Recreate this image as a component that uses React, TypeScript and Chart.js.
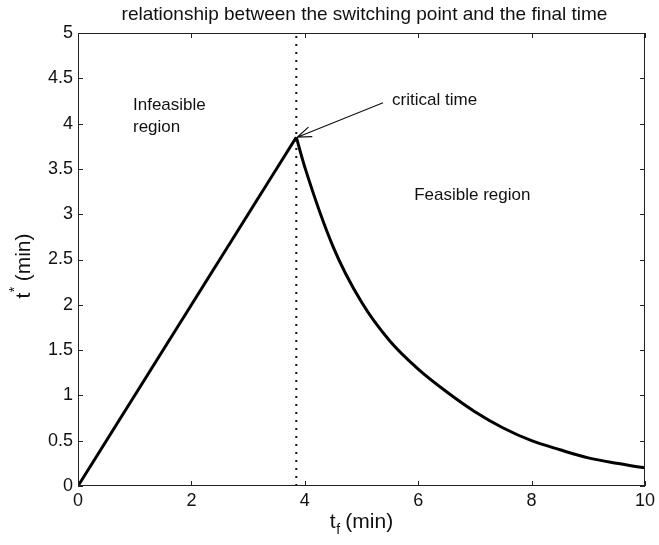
import React, { useEffect, useRef } from "react";
import { Chart, registerables } from "chart.js";
Chart.register(...registerables);

const riseX = [0, 3.85];
const riseY = [0, 3.85];
const decayX = [3.85, 4, 4.5, 5, 5.5, 6, 6.5, 7, 7.5, 8, 8.5, 9, 9.5, 10];
const decayY = [3.85, 3.52, 2.64, 2.03, 1.6, 1.29, 1.04, 0.82, 0.64, 0.5, 0.4, 0.31, 0.25, 0.2];
const criticalTime = 3.85;
const xTicks = [0, 2, 4, 6, 8, 10];
const xTickLabels = ["0", "2", "4", "6", "8", "10"];
const yTicks = [0, 0.5, 1, 1.5, 2, 2.5, 3, 3.5, 4, 4.5, 5];
const yTickLabels = ["0", "0.5", "1", "1.5", "2", "2.5", "3", "3.5", "4", "4.5", "5"];
const titleText = "relationship between the switching point and the final time";

const FONT = "'Liberation Sans', Arial, Helvetica, sans-serif";

const decorPlugin = {
  id: "decor",
  afterDraw(chart: any) {
    const { ctx, chartArea: a, scales } = chart;
    const xs = scales.x;
    const ys = scales.y;
    ctx.save();
    // box
    ctx.strokeStyle = "#222";
    ctx.lineWidth = 1;
    ctx.strokeRect(a.left + 0.5, a.top + 0.5, a.right - a.left - 1, a.bottom - a.top - 1);
    // inward ticks
    const tl = 5;
    ctx.beginPath();
    xTicks.forEach((v) => {
      const px = Math.round(xs.getPixelForValue(v)) + 0.5;
      ctx.moveTo(px, a.bottom);
      ctx.lineTo(px, a.bottom - tl);
      ctx.moveTo(px, a.top);
      ctx.lineTo(px, a.top + tl);
    });
    yTicks.forEach((v) => {
      const py = Math.round(ys.getPixelForValue(v)) + 0.5;
      ctx.moveTo(a.left, py);
      ctx.lineTo(a.left + tl, py);
      ctx.moveTo(a.right, py);
      ctx.lineTo(a.right - tl, py);
    });
    ctx.stroke();

    // title
    ctx.fillStyle = "#111";
    ctx.font = `19px ${FONT}`;
    ctx.textAlign = "center";
    ctx.textBaseline = "middle";
    ctx.fillText(titleText, (a.left + a.right) / 2 + 3, 15);

    // x axis title t_f (min)
    ctx.textBaseline = "alphabetic";
    ctx.textAlign = "left";
    const big = `21px ${FONT}`;
    const small = `14px ${FONT}`;
    ctx.font = big;
    const wT = ctx.measureText("t").width;
    const wRest = ctx.measureText(" (min)").width;
    ctx.font = small;
    const wSub = ctx.measureText("f").width;
    const totalX = wT + wSub + wRest;
    const sx = (a.left + a.right) / 2 - totalX / 2;
    const by = 528;
    ctx.font = big;
    ctx.fillText("t", sx, by);
    ctx.font = small;
    ctx.fillText("f", sx + wT + 0.5, by + 6);
    ctx.font = big;
    ctx.fillText(" (min)", sx + wT + wSub, by);

    // y axis title t* (min)
    ctx.save();
    ctx.translate(30, 266);
    ctx.rotate(-Math.PI / 2);
    ctx.font = big;
    const wT2 = ctx.measureText("t").width;
    const wR2 = ctx.measureText(" (min)").width;
    ctx.font = small;
    const wStar = ctx.measureText("*").width;
    const tot2 = wT2 + wStar + wR2;
    const sy = -tot2 / 2;
    ctx.font = big;
    ctx.fillText("t", sy, 0);
    ctx.font = small;
    ctx.fillText("*", sy + wT2 + 0.5, -11);
    ctx.font = big;
    ctx.fillText(" (min)", sy + wT2 + wStar, 0);
    ctx.restore();

    // annotations
    ctx.font = `17px ${FONT}`;
    ctx.textAlign = "left";
    ctx.textBaseline = "middle";
    ctx.fillStyle = "#111";
    ctx.fillText("Infeasible", xs.getPixelForValue(0.97), ys.getPixelForValue(4.2));
    ctx.fillText("region", xs.getPixelForValue(0.97), ys.getPixelForValue(3.96));
    ctx.fillText("critical time", xs.getPixelForValue(5.54), ys.getPixelForValue(4.26));
    ctx.fillText("Feasible region", xs.getPixelForValue(5.93), ys.getPixelForValue(3.21));

    // arrow
    const x1 = xs.getPixelForValue(5.38);
    const y1 = ys.getPixelForValue(4.23);
    const x2 = xs.getPixelForValue(criticalTime) + 1;
    const y2 = ys.getPixelForValue(3.85);
    ctx.strokeStyle = "#111";
    ctx.lineWidth = 1.2;
    ctx.beginPath();
    ctx.moveTo(x1, y1);
    ctx.lineTo(x2, y2);
    const ang = Math.atan2(y1 - y2, x1 - x2);
    const hl = 15;
    const ha = 0.35;
    ctx.moveTo(x2 + hl * Math.cos(ang + ha), y2 + hl * Math.sin(ang + ha));
    ctx.lineTo(x2, y2);
    ctx.lineTo(x2 + hl * Math.cos(ang - ha), y2 + hl * Math.sin(ang - ha));
    ctx.stroke();
    ctx.restore();
  },
};

export default function App() {
  const ref = useRef<HTMLCanvasElement | null>(null);
  useEffect(() => {
    if (!ref.current) return;
    const chart = new Chart(ref.current, {
      type: "line",
      data: {
        datasets: [
          {
            data: [
              { x: criticalTime, y: 0 },
              { x: criticalTime, y: 5 },
            ],
            borderColor: "#111",
            borderWidth: 2,
            borderDash: [2, 6],
            pointRadius: 0,
            tension: 0,
          },
          {
            data: riseX.map((x, i) => ({ x, y: riseY[i] })),
            borderColor: "#000",
            borderWidth: 3,
            pointRadius: 0,
            tension: 0,
          },
          {
            data: decayX.map((x, i) => ({ x, y: decayY[i] })),
            borderColor: "#000",
            borderWidth: 3,
            pointRadius: 0,
            cubicInterpolationMode: "monotone",
          },
        ],
      },
      options: {
        animation: false,
        responsive: false,
        maintainAspectRatio: false,
        layout: { padding: { left: 0, right: 14, top: 33, bottom: 0 } },
        plugins: { legend: { display: false }, tooltip: { enabled: false }, title: { display: false } },
        scales: {
          x: {
            type: "linear",
            min: 0,
            max: 10,
            afterFit: (s: any) => {
              s.height = 59;
            },
            afterBuildTicks: (s: any) => {
              s.ticks = xTicks.map((v) => ({ value: v }));
            },
            ticks: {
              callback: (v: any) => xTickLabels[xTicks.indexOf(Number(v))] ?? "",
              font: { family: FONT, size: 18 },
              color: "#111",
              padding: 4,
              maxRotation: 0,
            },
            grid: { display: false, drawTicks: false },
            border: { display: false },
          },
          y: {
            type: "linear",
            min: 0,
            max: 5,
            afterFit: (s: any) => {
              s.width = 78;
            },
            afterBuildTicks: (s: any) => {
              s.ticks = yTicks.map((v) => ({ value: v }));
            },
            ticks: {
              callback: (v: any) => yTickLabels[yTicks.indexOf(Number(v))] ?? "",
              font: { family: FONT, size: 18 },
              color: "#111",
              padding: 5,
            },
            grid: { display: false, drawTicks: false },
            border: { display: false },
          },
        },
      },
      plugins: [decorPlugin],
    });
    return () => chart.destroy();
  }, []);
  return (
    <div style={{ position: "fixed", left: 0, top: 0, width: 659, height: 545, background: "#fff" }}>
      <canvas ref={ref} width={659} height={545} style={{ width: 659, height: 545 }} />
    </div>
  );
}
